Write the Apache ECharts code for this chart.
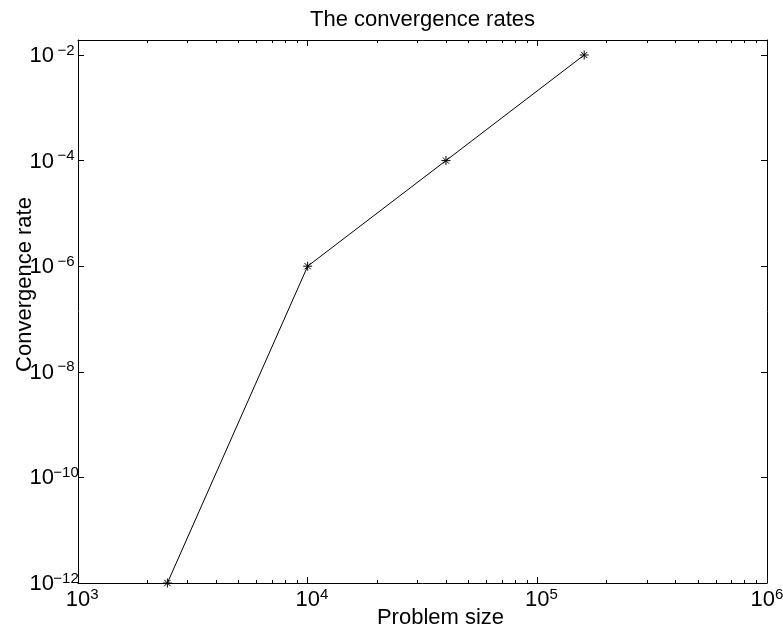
<!DOCTYPE html>
<html>
<head>
<meta charset="utf-8">
<script src="https://cdn.jsdelivr.net/npm/echarts@6/dist/echarts.min.js"></script>
<style>
html,body{margin:0;padding:0;background:#fff;}
#chart{width:783px;height:633px;}
</style>
</head>
<body>
<div id="chart"></div>
<script>
// ---- data ----
const problemSize = [2450, 10000, 40000, 160000];
const convergenceRate = [1e-12, 1e-6, 1e-4, 1e-2];
const xTickExponents = [3, 4, 5, 6];
const yTickExponents = [-12, -10, -8, -6, -4, -2];
const xMinorMultipliers = [2, 3, 4, 5, 6, 7, 8, 9];
const titleText = 'The convergence rates';
const xName = 'Problem size';
const yName = 'Convergence rate';

// ---- build ----
const FONT = '"Liberation Sans", Arial, Helvetica, sans-serif';
const xMin = 3, xMax = 6, yMin = -12, yMax = -1.716;
const xMinor = [];
for (let d = xMin; d < xMax; d++) {
  xMinorMultipliers.forEach(m => xMinor.push(Math.log10(m * Math.pow(10, d))));
}
const seriesData = problemSize.map((v, i) => [Math.log10(v), Math.log10(convergenceRate[i])]);

function expText(v) {
  const e = Math.round(v);
  return e < 0 ? '\u2212' + Math.abs(e) : String(e);
}
function xLabel(v) {
  const e = Math.round(v);
  // last label is kept inside the figure (whole label centred), others centre the "10"
  return (e === xMax ? '' : '{p| }') + '{b|10}{s|' + expText(v) + '}';
}
function yLabel(v) {
  return '{b|10}{s|' + expText(v) + '}';
}
const baseRich = {
  b: { fontSize: 22, fontFamily: FONT, color: '#000', lineHeight: 24, verticalAlign: 'bottom' },
  s: { fontSize: 15, fontFamily: FONT, color: '#000', lineHeight: 12, verticalAlign: 'top' }
};
const xRich = {
  p: { fontSize: 15, fontFamily: FONT, width: 8.3, lineHeight: 12 },
  b: baseRich.b,
  s: baseRich.s
};
const yRich = {
  b: baseRich.b,
  s: Object.assign({}, baseRich.s, { width: 24, align: 'left' })
};

function xAxisMaj(pos, showLabel) {
  return {
    type: 'value', position: pos, min: xMin, max: xMax,
    splitLine: { show: false },
    axisLine: { show: true, onZero: false, lineStyle: { color: '#000', width: 1 } },
    axisTick: { show: true, inside: true, length: 6, customValues: xTickExponents, lineStyle: { color: '#000' } },
    axisLabel: { show: showLabel, customValues: xTickExponents, formatter: xLabel, rich: xRich, margin: 4 }
  };
}
function xAxisMin(pos) {
  return {
    type: 'value', position: pos, min: xMin, max: xMax,
    splitLine: { show: false },
    axisLine: { show: false, onZero: false },
    axisTick: { show: true, inside: true, length: 3, customValues: xMinor, lineStyle: { color: '#000' } },
    axisLabel: { show: false }
  };
}
function yAxis(pos, showLabel) {
  return {
    type: 'value', position: pos, min: yMin, max: yMax,
    splitLine: { show: false },
    axisLine: { show: true, onZero: false, lineStyle: { color: '#000', width: 1 } },
    axisTick: { show: true, inside: true, length: 6, customValues: yTickExponents, lineStyle: { color: '#000' } },
    axisLabel: { show: showLabel, customValues: yTickExponents, formatter: yLabel, rich: yRich, margin: 0 }
  };
}

const xb = xAxisMaj('bottom', true);
xb.name = xName;
xb.nameLocation = 'middle';
xb.nameGap = 24;
xb.nameMoveOverlap = false;
xb.nameTextStyle = { fontSize: 22, fontFamily: FONT, color: '#000', padding: [0, 0, 0, 36] };
const yl = yAxis('left', true);
yl.name = yName;
yl.nameLocation = 'middle';
yl.nameGap = 42;
yl.nameMoveOverlap = false;
yl.nameTextStyle = { fontSize: 22, fontFamily: FONT, color: '#000', padding: [0, 0, 0, 54] };

const option = {
  backgroundColor: '#fff',
  animation: false,
  title: {
    text: titleText, left: 417.5, top: 4, textAlign: 'center',
    textStyle: { fontSize: 22, fontWeight: 'normal', fontFamily: FONT, color: '#000' }
  },
  grid: { left: 78, right: 16, top: 40, bottom: 50, containLabel: false, outerBoundsMode: 'none' },
  xAxis: [xb, xAxisMin('bottom'), xAxisMaj('top', false), xAxisMin('top')],
  yAxis: [yl, yAxis('right', false)],
  series: [{
    type: 'line',
    xAxisIndex: 0, yAxisIndex: 0,
    data: seriesData,
    symbol: 'path://M5,0L5,10M0,5L10,5M1.5,1.5L8.5,8.5M8.5,1.5L1.5,8.5',
    symbolSize: 9,
    showSymbol: true,
    itemStyle: { color: 'rgba(0,0,0,0)', borderColor: '#000', borderWidth: 1 },
    lineStyle: { color: '#000', width: 1 },
    emphasis: { disabled: true },
    silent: true
  }]
};
const chart = echarts.init(document.getElementById('chart'), null, { renderer: 'canvas' });
chart.setOption(option);
</script>
</body>
</html>
